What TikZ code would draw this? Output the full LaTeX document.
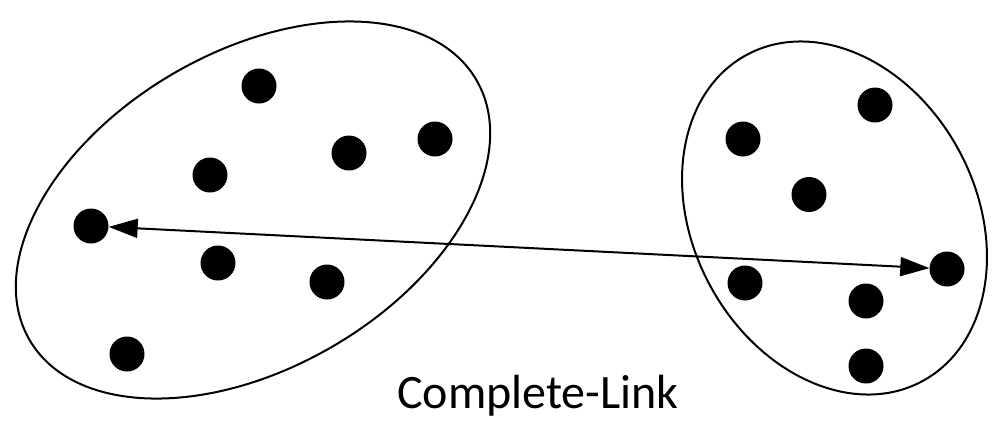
\documentclass[tikz,border=0pt]{standalone}
\usepackage{fontspec}
\setmainfont{Carlito}
\usetikzlibrary{arrows.meta}
\begin{document}
\begin{tikzpicture}[x=1pt,y=-1pt,
  dot/.style={circle,fill=black,inner sep=0pt,minimum size=35pt},
  cluster/.style={draw=black,line width=2pt},
  tip/.style={Triangle[length=29pt,width=19pt]},
  link/.style={line width=2pt,{Triangle[length=29pt,width=19pt]}-{Triangle[length=29pt,width=19pt]}}]
\useasboundingbox (0,0) rectangle (998,424);
% clusters
\draw[cluster] (253,210) ellipse[x radius=258.5, y radius=158, rotate=30.2];
\draw[cluster] (834.5,218) ellipse[x radius=141.6, y radius=185.3, rotate=28.2];
% left cluster points
\node[dot] (l1) at (259,86) {};
\node[dot] (l2) at (349,153) {};
\node[dot] (l3) at (435,139) {};
\node[dot] (l4) at (210,175) {};
\node[dot] (l5) at (91,226) {};
\node[dot] (l6) at (218,263) {};
\node[dot] (l7) at (327,282) {};
\node[dot] (l8) at (127,354) {};
% right cluster points
\node[dot] (r1) at (875,105) {};
\node[dot] (r2) at (743,139) {};
\node[dot] (r3) at (809,194.5) {};
\node[dot] (r4) at (947,269) {};
\node[dot] (r5) at (745,283) {};
\node[dot] (r6) at (866,301) {};
\node[dot] (r7) at (866,366) {};
% link
\draw[link] (l5) -- (r4);
% label
\node[anchor=base,inner sep=0pt,font=\fontsize{48}{56}\selectfont] (lbl) at (538,408) {Complete-Link};
\end{tikzpicture}
\end{document}
